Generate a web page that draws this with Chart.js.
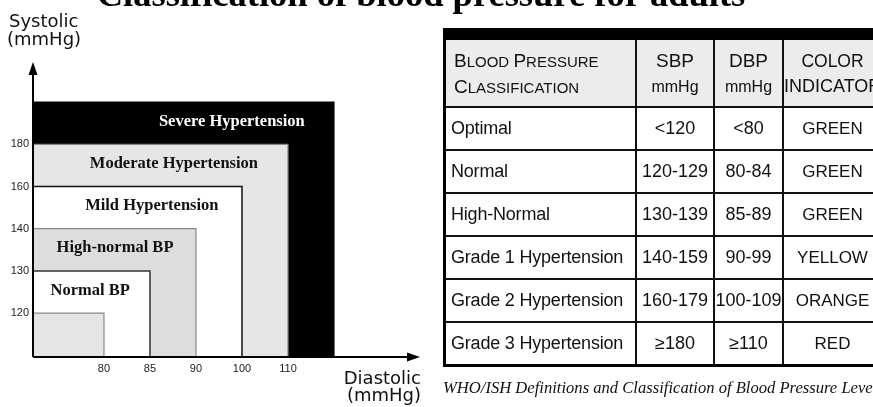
<!DOCTYPE html>
<html>
<head>
<meta charset="utf-8">
<script src="https://cdn.jsdelivr.net/npm/chart.js@4.4.1/dist/chart.umd.min.js"></script>
<style>
  html, body { margin: 0; padding: 0; background: #fff; }
  body { width: 873px; height: 407px; overflow: hidden; position: relative; }
  #bpChart { position: absolute; left: 0; top: 0; }
  #bpTable {
    position: absolute; left: 443px; top: 28px;
    border-spacing: 0; table-layout: fixed; width: 437px;
    border-left: 3px solid #000; border-top: 12px solid #000; border-bottom: 3px solid #000;
    font-family: "Liberation Sans", Arial, sans-serif; color: #111;
  }
  #bpTable td, #bpTable th {
    padding: 0; border-right: 2px solid #111; border-bottom: 2px solid #111;
    height: 41px; text-align: center; font-weight: normal; white-space: nowrap; overflow: visible;
  }
  #bpTable tr:last-child td { border-bottom: none; }
  #bpTable th { background: #ececec; height: 65px; line-height: 25px; vertical-align: middle; padding-top: 1px; }
  #bpTable .head1 { text-align: left; padding-left: 8px; font-size: 15px; }
  #bpTable .big { font-size: 19px; }
  #bpTable td.name { text-align: left; padding-left: 5px; font-size: 18px; letter-spacing: -0.2px; }
  #bpTable td.num { font-size: 18px; }
  #bpTable td.col { font-size: 17px; }
  #caption {
    position: absolute; left: 443px; top: 378px; white-space: nowrap;
    font: italic 16.6px "Liberation Serif", "Times New Roman", serif; color: #111;
  }
</style>
</head>
<body>
<canvas id="bpChart" width="873" height="407"></canvas>
<table id="bpTable"></table>
<div id="caption"></div>
<script>
// axis ticks of the zone diagram (ordinal steps)
const diastolicTicks = ['80', '85', '90', '100', '110'];
const systolicTicks = ['120', '130', '140', '160', '180'];
// zone k reaches tick k on both axes, the last one goes one step beyond
const zoneSteps = [0, 1, 2, 3, 4, 5];
const zoneNames = ['', 'Normal BP', 'High-normal BP', 'Mild Hypertension', 'Moderate Hypertension', 'Severe Hypertension'];
const zoneFill = ['#e5e5e5', '#ffffff', '#dddddd', '#ffffff', '#e6e6e6', '#000000'];
const zoneBorder = ['#8a8a8a', '#333333', '#8a8a8a', '#111111', '#8a8a8a', '#000000'];

// table
const tableHead = [['B|LOOD ', 'P|RESSURE', 'C|LASSIFICATION'], ['SBP', 'mmHg'], ['DBP', 'mmHg'], ['COLOR', 'INDICATOR']];
const classNames = ['Optimal', 'Normal', 'High-Normal', 'Grade 1 Hypertension', 'Grade 2 Hypertension', 'Grade 3 Hypertension'];
const sbpValues = ['<120', '120-129', '130-139', '140-159', '160-179', '\u2265180'];
const dbpValues = ['<80', '80-84', '85-89', '90-99', '100-109', '\u2265110'];
const colorIndicators = ['GREEN', 'GREEN', 'GREEN', 'YELLOW', 'ORANGE', 'RED'];
const captionText = 'WHO/ISH Definitions and Classification of Blood Pressure Levels';

const X_MIN = -1.543, X_MAX = 6.87;
const Y_MIN = -1.04, Y_MAX = 5.95;

function smallCaps(word) {
  const parts = word.split('|');
  return '<span class="big">' + parts[0] + '</span>' + parts[1];
}

function buildTable() {
  const t = document.getElementById('bpTable');
  let html = '<colgroup><col style="width:191px"><col style="width:78px"><col style="width:69px"><col style="width:99px"></colgroup>';
  html += '<tr><th class="head1">' + smallCaps(tableHead[0][0]) + smallCaps(tableHead[0][1]) + '<br>' + smallCaps(tableHead[0][2]) + '</th>';
  for (let i = 1; i < tableHead.length; i++) {
    const top = i === 3 ? 17.5 : 19;
    const bottom = i === 3 ? 18 : 16;
    html += '<th><span style="font-size:' + top + 'px">' + tableHead[i][0] +
      '</span><br><span style="font-size:' + bottom + 'px">' + tableHead[i][1] + '</span></th>';
  }
  html += '</tr>';
  classNames.forEach((name, i) => {
    html += '<tr><td class="name">' + name + '</td><td class="num">' + sbpValues[i] + '</td><td class="num">' +
      dbpValues[i] + '</td><td class="col">' + colorIndicators[i] + '</td></tr>';
  });
  t.innerHTML = html;
  document.getElementById('caption').textContent = captionText;
}

const zoneDatasets = zoneSteps.map((k, i) => ({
  label: zoneNames[i],
  data: [{ x: X_MIN, y: k }, { x: k, y: k }, { x: k, y: Y_MIN }],
  borderColor: zoneBorder[i],
  backgroundColor: zoneFill[i],
  borderWidth: i === 3 || i === 1 ? 1.5 : 1.2,
  fill: 'start',
  pointRadius: 0,
  tension: 0,
}));

const decorPlugin = {
  id: 'decor',
  afterDatasetsDraw(chart) {
    const ctx = chart.ctx;
    const a = chart.chartArea;
    const sx = chart.scales.x, sy = chart.scales.y;
    ctx.save();
    // zone names
    const labelX = [0, -0.3, 0.24, 1.04, 1.52, 2.78];
    ctx.font = 'bold 16.5px "Liberation Serif", "Times New Roman", serif';
    ctx.textAlign = 'center';
    ctx.textBaseline = 'middle';
    zoneNames.forEach((name, i) => {
      if (!name) return;
      ctx.fillStyle = i === 5 ? '#ffffff' : '#111111';
      ctx.fillText(name, sx.getPixelForValue(labelX[i]), sy.getPixelForValue(zoneSteps[i] - 0.46));
    });
    // axes with arrows
    ctx.strokeStyle = '#000';
    ctx.fillStyle = '#000';
    ctx.lineWidth = 2;
    ctx.beginPath();
    ctx.moveTo(a.left, a.bottom);
    ctx.lineTo(a.left, a.top + 8);
    ctx.moveTo(a.left, a.bottom);
    ctx.lineTo(a.right - 8, a.bottom);
    ctx.stroke();
    ctx.beginPath();
    ctx.moveTo(a.left, a.top);
    ctx.lineTo(a.left - 4.5, a.top + 13);
    ctx.lineTo(a.left + 4.5, a.top + 13);
    ctx.closePath();
    ctx.fill();
    ctx.beginPath();
    ctx.moveTo(a.right, a.bottom);
    ctx.lineTo(a.right - 13, a.bottom - 4.5);
    ctx.lineTo(a.right - 13, a.bottom + 4.5);
    ctx.closePath();
    ctx.fill();
    // axis names
    ctx.fillStyle = '#111';
    ctx.font = '18px "DejaVu Sans", sans-serif';
    ctx.textBaseline = 'alphabetic';
    ctx.textAlign = 'left';
    ctx.fillText('Systolic', 9, 27);
    ctx.fillText('(mmHg)', 7, 45);
    ctx.textAlign = 'right';
    ctx.fillText('Diastolic', 421, 384);
    ctx.fillText('(mmHg)', 421, 401);
    // title, cut at the top of the picture
    ctx.font = 'bold 36.5px "Liberation Serif", "Times New Roman", serif';
    ctx.textAlign = 'center';
    ctx.fillStyle = '#000';
    ctx.fillText('Classification of blood pressure for adults', 421, 6);
    ctx.restore();
  },
};

function renderChart() {
  const ctx = document.getElementById('bpChart').getContext('2d');
  new Chart(ctx, {
    type: 'line',
    data: { datasets: zoneDatasets },
    options: {
      responsive: false,
      animation: false,
      layout: { padding: { left: 0, top: 62, right: 453, bottom: 0 } },
      plugins: { legend: { display: false }, tooltip: { enabled: false }, title: { display: false } },
      scales: {
        x: {
          type: 'linear',
          min: X_MIN,
          max: X_MAX,
          grid: { display: false, drawTicks: false },
          border: { display: false },
          afterBuildTicks: (s) => { s.ticks = diastolicTicks.map((_, i) => ({ value: i })); },
          afterFit: (s) => { s.height = 50; },
          ticks: {
            callback: (v) => diastolicTicks[v],
            color: '#222',
            font: { family: 'Liberation Sans', size: 11 },
            padding: 5,
            maxRotation: 0,
          },
        },
        y: {
          type: 'linear',
          min: Y_MIN,
          max: Y_MAX,
          grid: { display: false, drawTicks: false },
          border: { display: false },
          afterBuildTicks: (s) => { s.ticks = systolicTicks.map((_, i) => ({ value: i })); },
          afterFit: (s) => { s.width = 33; },
          ticks: {
            callback: (v) => systolicTicks[v],
            color: '#222',
            font: { family: 'Liberation Sans', size: 11 },
            padding: 4,
          },
        },
      },
    },
    plugins: [decorPlugin],
  });
}

window.onload = () => {
  buildTable();
  renderChart();
};
</script>
</body>
</html>
